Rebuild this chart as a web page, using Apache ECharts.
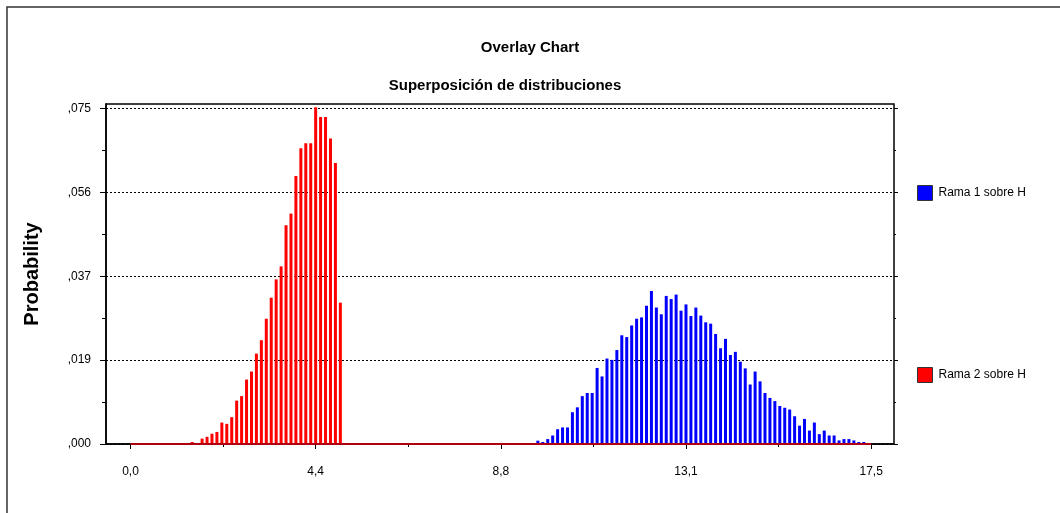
<!DOCTYPE html>
<html>
<head>
<meta charset="utf-8">
<script src="https://cdn.jsdelivr.net/npm/echarts@6/dist/echarts.min.js"></script>
<style>
html, body { margin: 0; padding: 0; background: #fff; }
#chart { width: 1060px; height: 513px; }
</style>
</head>
<body>
<div id="chart"></div>
<script>
// 150 bins over 0 .. 17,5
const binWidth = 17.5 / 150
const redStartBin = 12
const redValues = [0.00045, 0, 0.0012, 0.0016, 0.0023, 0.0027, 0.0048, 0.0045, 0.0060, 0.0097,
  0.0107, 0.0144, 0.0162, 0.0202, 0.0232, 0.0280, 0.0327, 0.0368, 0.0397, 0.0489,
  0.0515, 0.0599, 0.0661, 0.0672, 0.0672, 0.0753, 0.0731, 0.0731, 0.0683, 0.0628, 0.0316]
const blueStartBin = 82
const blueValues = [0.00074, 0.00045, 0.0011, 0.0019, 0.0033, 0.0037, 0.0037, 0.0071, 0.0082, 0.0107,
  0.0114, 0.0114, 0.0170, 0.0151, 0.0191, 0.0188, 0.0210, 0.0243, 0.0239, 0.0265,
  0.0280, 0.0283, 0.0309, 0.0342, 0.0305, 0.0290, 0.0331, 0.0324, 0.0334, 0.0298,
  0.0312, 0.0286, 0.0305, 0.0287, 0.0272, 0.0269, 0.0246, 0.0214, 0.0235, 0.0199,
  0.0206, 0.0184, 0.0169, 0.0133, 0.0162, 0.0140, 0.0114, 0.0103, 0.0096, 0.0085,
  0.0081, 0.0077, 0.0062, 0.0041, 0.0056, 0.0030, 0.0048, 0.0022, 0.0030, 0.0019,
  0.0019, 0.0008, 0.0011, 0.0011, 0.0008, 0.00045, 0.00045]
const seriesNames = ['Rama 1 sobre H', 'Rama 2 sobre H']

const xTickValues = [0, 4.375, 8.75, 13.125, 17.5]
const xTickLabels = ['0,0', '4,4', '8,8', '13,1', '17,5']
const xMinorTicks = [2.1875, 6.5625, 10.9375, 15.3125]
const yTickValues = [0, 0.01875, 0.0375, 0.05625, 0.075]
const yTickLabels = [',000', ',019', ',037', ',056', ',075']
const yMinorTicks = [0.009375, 0.028125, 0.046875, 0.065625]

const toPairs = (start, vals) => vals.map((v, i) => [(start + i + 0.5) * binWidth, v])
const redData = toPairs(redStartBin, redValues)
const blueData = toPairs(blueStartBin, blueValues)
const baseLine = [[xTickValues[0], 0], [xTickValues[xTickValues.length - 1], 0]]

const font = 'Liberation Sans'
const xMin = -0.579
const xMax = 18.04
const yMax = 0.076

// y axes share the same scale, only the ticks differ
const sideAxis = (position, ticks, len) => ({
  type: 'value', min: 0, max: yMax, position: position,
  axisLine: { show: false, onZero: false },
  axisTick: { show: true, customValues: ticks, length: len, lineStyle: { color: '#000' } },
  axisLabel: { show: false },
  splitLine: { show: false }
})

const chart = echarts.init(document.getElementById('chart'))
const option = {
  animation: false,
  textStyle: { fontFamily: font },
  title: [
    { text: 'Overlay Chart', left: 'center', top: 35, textStyle: { fontSize: 15, fontWeight: 'bold', color: '#000', fontFamily: font } },
    { text: 'Superposición de distribuciones', left: 500, textAlign: 'center', top: 73, textStyle: { fontSize: 15, fontWeight: 'bold', color: '#000', fontFamily: font } }
  ],
  legend: {
    orient: 'vertical',
    left: 912,
    top: 180,
    itemGap: 166,
    itemWidth: 15,
    itemHeight: 15,
    icon: 'rect',
    data: seriesNames,
    itemStyle: { borderColor: '#333', borderWidth: 1 },
    textStyle: { fontSize: 12, color: '#000', fontFamily: font, padding: [0, 0, 0, 1] }
  },
  grid: {
    left: 106,
    right: 166,
    top: 104,
    bottom: 69,
    show: true,
    borderColor: '#000',
    borderWidth: 1.5
  },
  xAxis: [
    {
      type: 'value', min: xMin, max: xMax, position: 'bottom',
      axisLine: { show: true, onZero: false, lineStyle: { color: '#000', width: 1.5 } },
      axisTick: { show: true, customValues: xTickValues, length: 5, lineStyle: { color: '#000' } },
      axisLabel: {
        customValues: xTickValues,
        margin: 22,
        fontSize: 12,
        color: '#000',
        formatter: v => xTickLabels[xTickValues.findIndex(t => Math.abs(t - v) < 1e-6)] || ''
      },
      splitLine: { show: false }
    },
    {
      type: 'value', min: xMin, max: xMax, position: 'bottom',
      axisLine: { show: false, onZero: false },
      axisTick: { show: true, customValues: xMinorTicks, length: 3, lineStyle: { color: '#000' } },
      axisLabel: { show: false },
      splitLine: { show: false }
    }
  ],
  yAxis: [
    {
      type: 'value', min: 0, max: yMax, interval: 0.01875, position: 'left',
      name: 'Probability',
      nameLocation: 'middle',
      nameGap: 64,
      nameTextStyle: { fontSize: 20, fontWeight: 'bold', color: '#000', fontFamily: font },
      axisLine: { show: true, onZero: false, lineStyle: { color: '#000', width: 1.5 } },
      axisTick: { show: true, customValues: yTickValues, length: 6, lineStyle: { color: '#000' } },
      axisLabel: {
        customValues: yTickValues,
        margin: 15,
        fontSize: 12,
        color: '#000',
        formatter: v => yTickLabels[yTickValues.findIndex(t => Math.abs(t - v) < 1e-7)] || ''
      },
      splitLine: { show: true, lineStyle: { color: '#000', type: [2, 2], width: 1 } }
    },
    sideAxis('left', yMinorTicks, 4),
    sideAxis('right', yTickValues, 4),
    sideAxis('right', yMinorTicks, 2)
  ],
  graphic: [
    { type: 'polyline', shape: { points: [[7, 513], [7, 7], [1060, 7]] }, style: { stroke: '#333', lineWidth: 1.5, fill: null } }
  ],
  series: [
    {
      name: seriesNames[0],
      type: 'bar',
      barWidth: 3,
      barGap: '-100%',
      itemStyle: { color: '#0000ff' },
      data: blueData
    },
    {
      name: seriesNames[1],
      type: 'bar',
      barWidth: 3,
      barGap: '-100%',
      itemStyle: { color: '#ff0000' },
      data: redData
    },
    {
      type: 'line',
      symbol: 'none',
      silent: true,
      lineStyle: { color: '#b00010', width: 2 },
      data: baseLine,
      z: 3
    }
  ]
}
chart.setOption(option)
</script>
</body>
</html>
